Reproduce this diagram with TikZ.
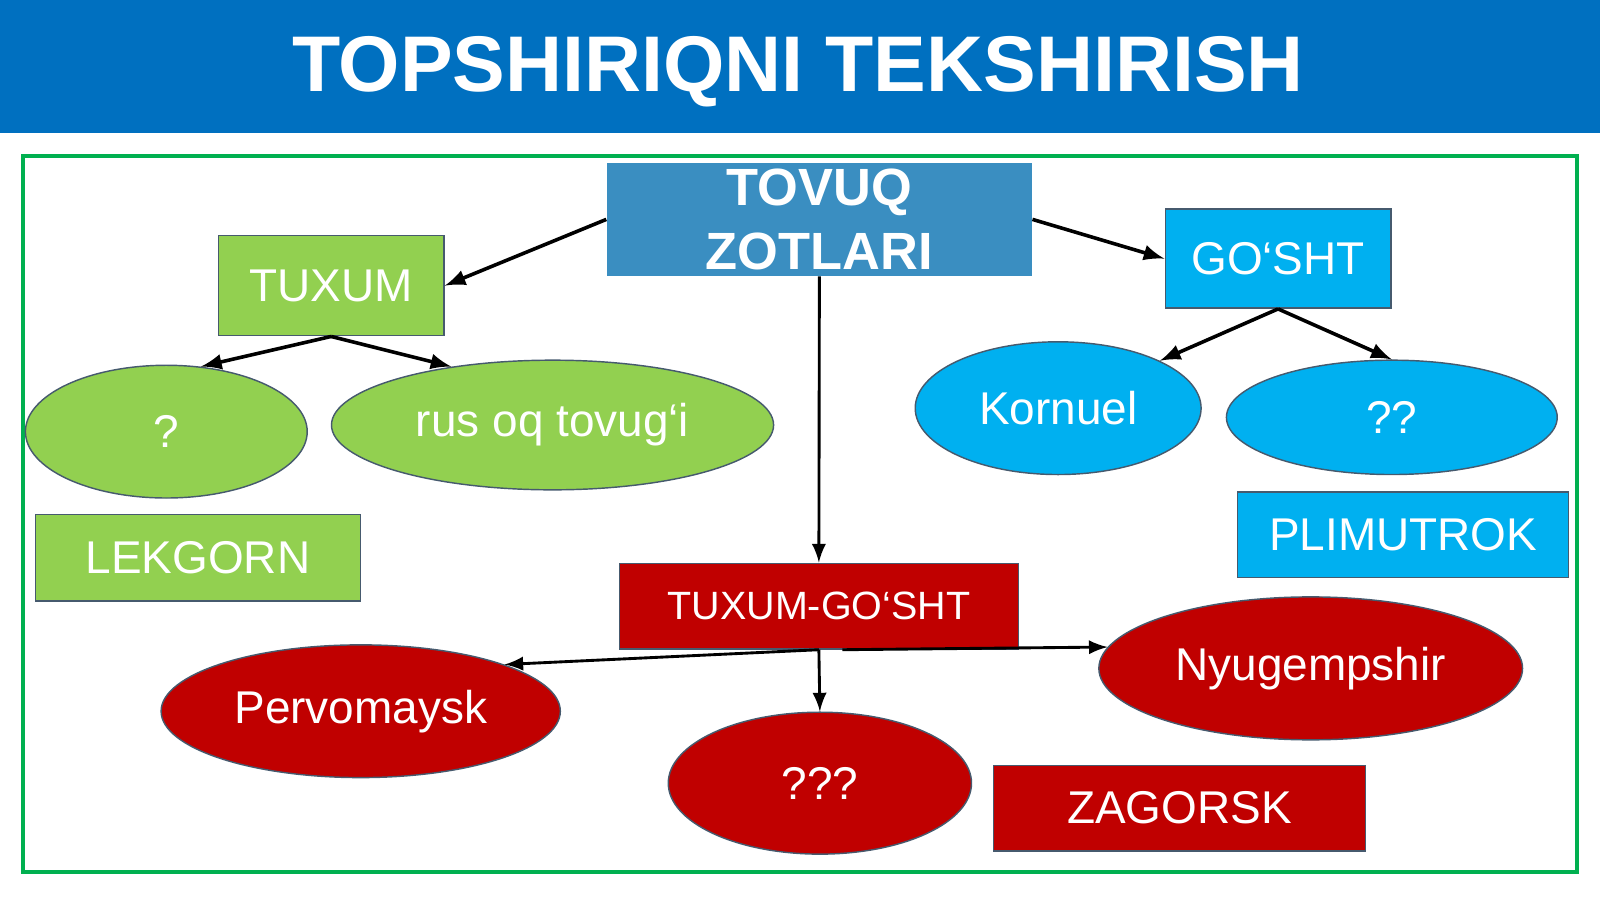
\documentclass[tikz,border=0pt]{standalone}
\usepackage{fontspec}
\setmainfont{Liberation Sans}
\usetikzlibrary{shapes,arrows,positioning}

\definecolor{titleblue}{RGB}{0,112,192}
\definecolor{framegreen}{RGB}{0,176,80}
\definecolor{rootblue}{RGB}{58,142,193}
\definecolor{leafgreen}{RGB}{146,208,80}
\definecolor{skyblue}{RGB}{0,176,240}
\definecolor{darkred}{RGB}{192,0,0}
\definecolor{edgegray}{RGB}{70,90,110}

\begin{document}
\begin{tikzpicture}[x=0.01cm, y=-0.01cm,
    box/.style={rectangle, draw=edgegray, line width=0.4pt, inner sep=0pt, text=white, align=center, font=\fontsize{12.8}{15}\selectfont},
    oval/.style={ellipse, draw=edgegray, line width=0.4pt, inner sep=0pt, text=white, align=center, font=\fontsize{12.8}{15}\selectfont},
    link/.style={-latex, line width=1pt}]
    \useasboundingbox (0,0) rectangle (1568,881);

    % Title bar and frame
    \fill[titleblue] (0,0) rectangle (1568,130);
    \node[text=white, font=\bfseries\fontsize{22}{26}\selectfont] (title) at (782,70) {TOPSHIRIQNI TEKSHIRISH};
    \draw[framegreen, line width=1.1pt] (23,153) rectangle (1545,855);

    % Central figure
    \node[box, fill=rootblue, draw=none, minimum width=4.16cm, minimum height=1.1cm, font=\bfseries\fontsize{14.6}{17.6}\selectfont] (tovuq) at (803,215) {TOVUQ\\ZOTLARI};

    % Egg branch
    \node[box, fill=leafgreen, minimum width=2.21cm, minimum height=0.98cm] (tuxum) at (324.5,280) {TUXUM};
    \node[oval, fill=leafgreen, minimum width=2.76cm, minimum height=1.3cm] (q1) at (163,423) {?};
    \node[oval, fill=leafgreen, minimum width=4.33cm, minimum height=1.27cm] (rusoq) at (541.5,416.5) {rus oq tovug‘i};
    \node[box, fill=leafgreen, minimum width=3.18cm, minimum height=0.85cm] (lekgorn) at (194,546.5) {LEKGORN};

    % Meat branch
    \node[box, fill=skyblue, minimum width=2.21cm, minimum height=0.97cm] (gosht) at (1252.5,253.5) {GO‘SHT};
    \node[oval, fill=skyblue, minimum width=2.8cm, minimum height=1.3cm] (kornuel) at (1037,400) {Kornuel};
    \node[oval, fill=skyblue, minimum width=3.24cm, minimum height=1.12cm] (q2) at (1364,409) {??};
    \node[box, fill=skyblue, minimum width=3.24cm, minimum height=0.84cm] (plimutrok) at (1375,524) {PLIMUTROK};

    % Egg-meat branch
    \node[box, fill=darkred, minimum width=3.91cm, minimum height=0.84cm, font=\fontsize{11}{13}\selectfont] (tg) at (802.5,594) {TUXUM-GO‘SHT};
    \node[oval, fill=darkred, minimum width=3.91cm, minimum height=1.3cm] (pervo) at (353.5,697) {Pervomaysk};
    \node[oval, fill=darkred, minimum width=2.97cm, minimum height=1.39cm] (q3) at (803.5,767.5) {???};
    \node[oval, fill=darkred, minimum width=4.15cm, minimum height=1.4cm] (nyu) at (1284.5,655) {Nyugempshir};
    \node[box, fill=darkred, minimum width=3.64cm, minimum height=0.84cm] (zagorsk) at (1156,792) {ZAGORSK};
    \coordinate (tgright) at ([xshift=0.23cm]tg.south);

    % Arrows
    \draw[link] (tovuq.west) -- (tuxum.east);
    \draw[link] (tovuq.east) -- (gosht.west);
    \draw[link, line width=0.8pt] (tovuq.south) -- (tg.north);
    \draw[link] (tuxum.south) -- (q1.62);
    \draw[link] (tuxum.south) -- (rusoq.150);
    \draw[link] (gosht.south) -- (kornuel.25);
    \draw[link] (gosht.south) -- (q2.north);
    \draw[link, line width=0.8pt] (tg.south) -- (pervo.18);
    \draw[link, line width=0.8pt] (tg.south) -- (q3.north);
    \draw[link, line width=0.8pt] (tgright) -- (nyu.174);
\end{tikzpicture}
\end{document}
